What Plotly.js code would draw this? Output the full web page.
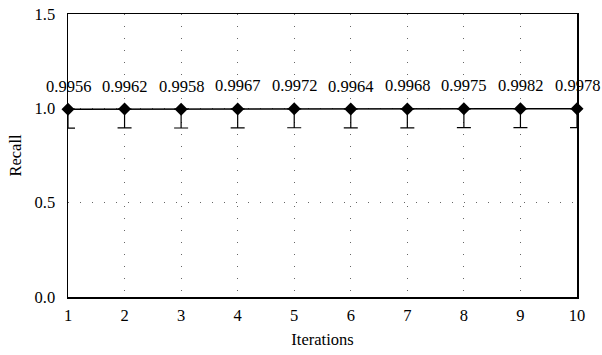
<!DOCTYPE html>
<html>
<head>
<meta charset="utf-8">
<script src="https://cdn.plot.ly/plotly-3.0.1.min.js"></script>
<style>html,body{margin:0;padding:0;background:#fff;}#chart{width:602px;height:355px;}</style>
</head>
<body>
<div id="chart"></div>
<script>
const iterations = [1, 2, 3, 4, 5, 6, 7, 8, 9, 10];
const recall = [0.9956, 0.9962, 0.9958, 0.9967, 0.9972, 0.9964, 0.9968, 0.9975, 0.9982, 0.9978];
const recallLabels = ["0.9956", "0.9962", "0.9958", "0.9967", "0.9972", "0.9964", "0.9968", "0.9975", "0.9982", "0.9978"];
const errorMinus = [0.1, 0.1, 0.1, 0.1, 0.1, 0.1, 0.1, 0.1, 0.1, 0.1];

const fam = "Liberation Serif, DejaVu Serif, serif";
const font = {family: fam, size: 16.5, color: "#000"};

const trace = {
  x: iterations,
  y: recall,
  mode: "lines+markers",
  line: {color: "#000", width: 1.5},
  marker: {symbol: "diamond", size: 10, color: "#000"},
  error_y: {type: "data", symmetric: false, array: iterations.map(() => 0), arrayminus: errorMinus, color: "#000", thickness: 1.2, width: 7},
  cliponaxis: false,
  hoverinfo: "none"
};

const annotations = iterations.map((x, i) => ({
  x: x, y: recall[i], xref: "x", yref: "y",
  text: recallLabels[i], showarrow: false,
  yshift: 23, font: {family: fam, size: 16.5, color: "#000"}
}));

const grid = {showgrid: true, gridcolor: "#666", griddash: "1px,11px", gridwidth: 1};

const layout = {
  width: 602, height: 355,
  margin: {l: 68, r: 25, t: 14, b: 58},
  paper_bgcolor: "#fff", plot_bgcolor: "#fff",
  showlegend: false,
  font: font,
  annotations: annotations,
  xaxis: Object.assign({
    range: [1, 10], tickvals: iterations, ticktext: iterations.map(String),
    zeroline: false, showline: true, linecolor: "#000", linewidth: 1.5, mirror: true,
    ticks: "", ticklabelstandoff: 3,
    title: {text: "Iterations", font: font, standoff: 9},
    tickfont: font
  }, grid),
  yaxis: Object.assign({
    range: [0, 1.5], tickvals: [0, 0.5, 1.0, 1.5], ticktext: ["0.0", "0.5", "1.0", "1.5"],
    zeroline: false, showline: true, linecolor: "#000", linewidth: 1.5, mirror: true,
    ticks: "", ticklabelstandoff: 8,
    title: {text: "Recall", font: font, standoff: 9},
    tickfont: font
  }, grid)
};

Plotly.newPlot("chart", [trace], layout, {staticPlot: true, displayModeBar: false});
</script>
</body>
</html>
